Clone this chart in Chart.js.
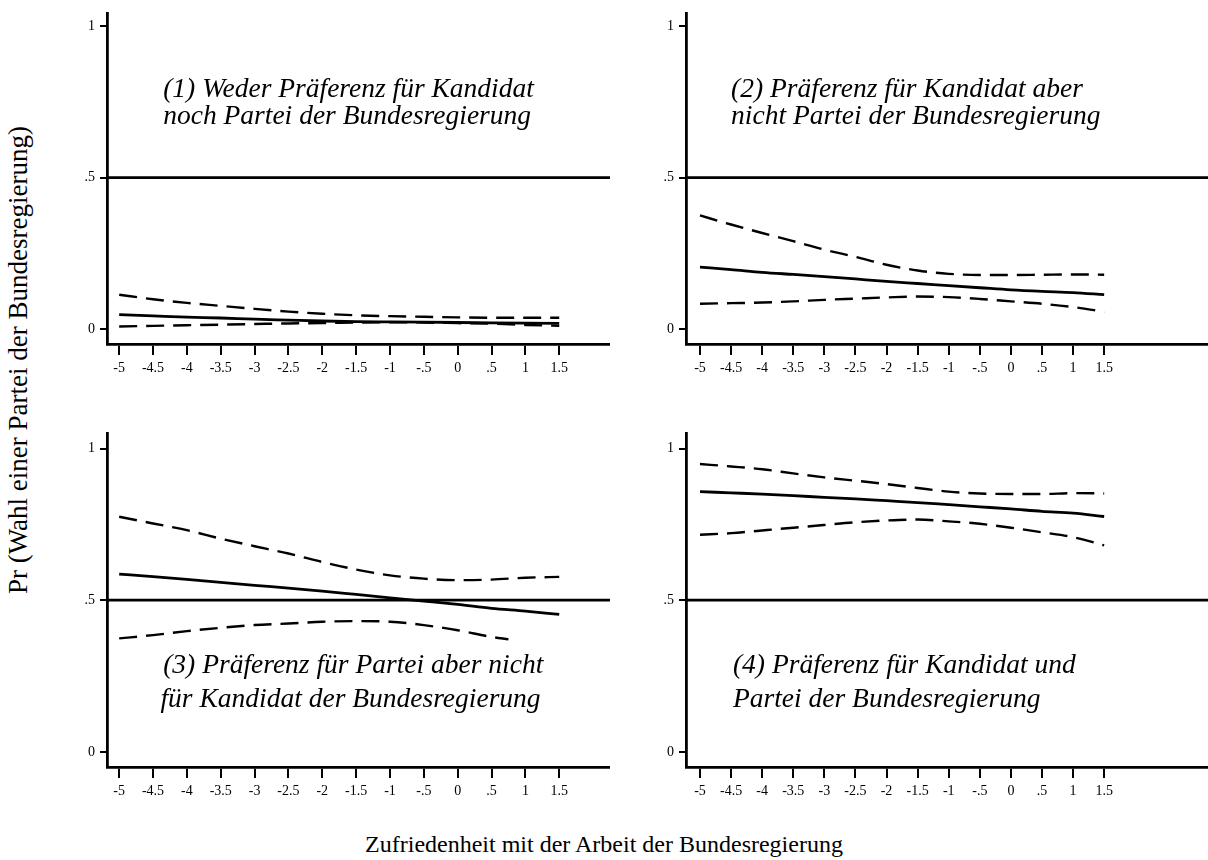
<!DOCTYPE html>
<html>
<head>
<meta charset="utf-8">
<script src="https://cdn.jsdelivr.net/npm/chart.js@4.4.1/dist/chart.umd.min.js"></script>
<style>
html,body{margin:0;padding:0;background:#fff;}
body{width:1208px;height:860px;position:relative;overflow:hidden;font-family:"Liberation Serif","Times New Roman",serif;color:#000;}
canvas.pc{position:absolute;}
#xtitle{position:absolute;left:304px;top:830px;width:600px;text-align:center;font-size:24px;line-height:28px;white-space:nowrap;}
#ytitle{position:absolute;left:-282px;top:345px;width:600px;height:30px;line-height:30px;text-align:center;font-size:27px;white-space:nowrap;transform:rotate(-90deg);}
</style>
</head>
<body>
<canvas id="c1" class="pc"></canvas>
<canvas id="c2" class="pc"></canvas>
<canvas id="c3" class="pc"></canvas>
<canvas id="c4" class="pc"></canvas>
<div id="xtitle">Zufriedenheit mit der Arbeit der Bundesregierung</div>
<div id="ytitle">Pr (Wahl einer Partei der Bundesregierung)</div>
<script>
// ---------- data ----------
const xValues = [-5, -4.5, -4, -3.5, -3, -2.5, -2, -1.5, -1, -0.5, 0, 0.5, 1, 1.5];
const xTickLabels = ["-5", "-4.5", "-4", "-3.5", "-3", "-2.5", "-2", "-1.5", "-1", "-.5", "0", ".5", "1", "1.5"];
const yTickValues = [0, 0.5, 1];
const yTickLabels = ["0", ".5", "1"];
const refLineValue = 0.5;

const p1Upper = [0.113, 0.098, 0.086, 0.076, 0.066, 0.057, 0.050, 0.045, 0.042, 0.040, 0.038, 0.037, 0.037, 0.037];
const p1Pred  = [0.047, 0.043, 0.039, 0.036, 0.032, 0.029, 0.026, 0.024, 0.023, 0.022, 0.021, 0.020, 0.019, 0.018];
const p1Lower = [0.008, 0.010, 0.012, 0.014, 0.016, 0.018, 0.019, 0.021, 0.022, 0.021, 0.019, 0.017, 0.013, 0.010];

const p2Upper = [0.375, 0.345, 0.317, 0.290, 0.262, 0.238, 0.212, 0.193, 0.182, 0.178, 0.178, 0.179, 0.180, 0.179];
const p2Pred  = [0.204, 0.196, 0.187, 0.180, 0.173, 0.165, 0.157, 0.150, 0.143, 0.136, 0.129, 0.124, 0.120, 0.113];
const p2Lower = [0.083, 0.085, 0.087, 0.091, 0.096, 0.100, 0.104, 0.107, 0.105, 0.099, 0.091, 0.083, 0.072, 0.057];

const p3Upper = [0.775, 0.753, 0.731, 0.703, 0.678, 0.654, 0.626, 0.601, 0.582, 0.571, 0.566, 0.568, 0.574, 0.577];
const p3Pred  = [0.586, 0.578, 0.569, 0.559, 0.549, 0.540, 0.530, 0.519, 0.508, 0.497, 0.486, 0.473, 0.464, 0.453];
const p3LowerX = [-5, -4.5, -4, -3.5, -3, -2.5, -2, -1.5, -1, -0.5, 0, 0.5, 0.75];
const p3Lower = [0.374, 0.385, 0.398, 0.409, 0.418, 0.423, 0.429, 0.431, 0.429, 0.418, 0.401, 0.379, 0.371];

const p4Upper = [0.949, 0.941, 0.932, 0.918, 0.905, 0.894, 0.883, 0.870, 0.858, 0.852, 0.850, 0.850, 0.853, 0.852];
const p4Pred  = [0.858, 0.854, 0.850, 0.845, 0.839, 0.834, 0.828, 0.822, 0.815, 0.808, 0.801, 0.793, 0.787, 0.776];
const p4Lower = [0.716, 0.721, 0.730, 0.739, 0.748, 0.757, 0.763, 0.766, 0.760, 0.752, 0.739, 0.724, 0.708, 0.681];

const titles1 = ["(1) Weder Präferenz für Kandidat", "noch Partei der Bundesregierung"];
const titles2 = ["(2) Präferenz für Kandidat aber", "nicht Partei der Bundesregierung"];
const titles3 = ["(3) Präferenz für Partei aber nicht", "für Kandidat der Bundesregierung"];
const titles4 = ["(4) Präferenz für Kandidat und", "Partei der Bundesregierung"];

// ---------- chart setup ----------
Chart.defaults.font.family = '"Liberation Serif", "Times New Roman", serif';
Chart.defaults.font.size = 14;
Chart.defaults.color = '#000';

const pts = (xs, ys) => xs.map((x, i) => ({x: x, y: ys[i]}));

const refLinePlugin = {
  id: 'refLine',
  beforeDatasetsDraw(chart) {
    const {ctx, chartArea, scales} = chart;
    const y = scales.y.getPixelForValue(refLineValue);
    ctx.save();
    ctx.strokeStyle = '#000';
    ctx.lineWidth = 2.8;
    ctx.beginPath();
    ctx.moveTo(chartArea.left, y);
    ctx.lineTo(chartArea.right, y);
    ctx.stroke();
    ctx.restore();
  }
};

const panelTitlePlugin = {
  id: 'panelTitle',
  afterDraw(chart, args, opts) {
    if (!opts || !opts.lines) return;
    const {ctx, scales} = chart;
    ctx.save();
    ctx.fillStyle = '#000';
    ctx.font = 'italic 27.5px "Liberation Serif", "Times New Roman", serif';
    ctx.textBaseline = 'alphabetic';
    ctx.textAlign = 'left';
    opts.lines.forEach((t, i) => {
      const x = scales.x.getPixelForValue(opts.xs[i]);
      const y = scales.y.getPixelForValue(opts.ys[i]);
      ctx.fillText(t, x, y);
    });
    ctx.restore();
  }
};

function makePanel(id, geom, series, title) {
  const cv = document.getElementById(id);
  cv.width = geom.w; cv.height = geom.h;
  cv.style.left = geom.left + 'px'; cv.style.top = geom.top + 'px';
  cv.style.width = geom.w + 'px'; cv.style.height = geom.h + 'px';
  const datasets = series.map(s => ({
    data: s.data,
    borderColor: '#000',
    borderWidth: s.dash ? 2.4 : 2.8,
    borderDash: s.dash ? [18, 9] : [],
    pointRadius: 0,
    fill: false,
    tension: 0.3,
    cubicInterpolationMode: 'monotone'
  }));
  return new Chart(cv, {
    type: 'line',
    data: {datasets},
    options: {
      responsive: false,
      animation: false,
      devicePixelRatio: 1,
      layout: {padding: {top: geom.padT, right: 0, left: 0, bottom: 0}},
      plugins: {
        legend: {display: false},
        tooltip: {enabled: false},
        panelTitle: title
      },
      scales: {
        x: {
          type: 'linear', min: geom.xMin, max: geom.xMax,
          afterBuildTicks: sc => { sc.ticks = xValues.map(v => ({value: v})); },
          afterFit: sc => { sc.height = geom.xH; },
          ticks: {
            autoSkip: false, maxRotation: 0, padding: 5,
            font: {size: 14},
            callback: (v, i) => xTickLabels[i]
          },
          grid: {drawOnChartArea: false, drawTicks: true, tickLength: 11, color: '#000', lineWidth: 2},
          border: {display: true, color: '#000', width: 2.8}
        },
        y: {
          type: 'linear', min: geom.yMin, max: geom.yMax,
          afterBuildTicks: sc => { sc.ticks = yTickValues.map(v => ({value: v})); },
          afterFit: sc => { sc.width = geom.yW; },
          ticks: {
            autoSkip: false, padding: 5,
            font: {size: 14},
            callback: (v, i) => yTickLabels[i]
          },
          grid: {drawOnChartArea: false, drawTicks: true, tickLength: 7, color: '#000', lineWidth: 2},
          border: {display: true, color: '#000', width: 2.8}
        }
      }
    },
    plugins: [refLinePlugin, panelTitlePlugin]
  });
}

const g1 = {left: 45, top: 0, w: 565, h: 395, padT: 12, yW: 62, xH: 51, xMin: -5.18, xMax: 2.25, yMin: -0.05, yMax: 1.043};
const g2 = {left: 626, top: 0, w: 582, h: 395, padT: 12, yW: 60, xH: 51, xMin: -5.225, xMax: 3.17, yMin: -0.05, yMax: 1.043};
const g3 = {left: 45, top: 420, w: 565, h: 395, padT: 12, yW: 62, xH: 48, xMin: -5.18, xMax: 2.25, yMin: -0.05, yMax: 1.05};
const g4 = {left: 626, top: 420, w: 582, h: 395, padT: 12, yW: 60, xH: 48, xMin: -5.225, xMax: 3.17, yMin: -0.05, yMax: 1.05};

makePanel('c1', g1, [
  {data: pts(xValues, p1Upper), dash: true},
  {data: pts(xValues, p1Pred), dash: false},
  {data: pts(xValues, p1Lower), dash: true}
], {lines: titles1, xs: [-4.35, -4.35], ys: [0.766, 0.677]});

makePanel('c2', g2, [
  {data: pts(xValues, p2Upper), dash: true},
  {data: pts(xValues, p2Pred), dash: false},
  {data: pts(xValues, p2Lower), dash: true}
], {lines: titles2, xs: [-4.50, -4.50], ys: [0.766, 0.677]});

makePanel('c3', g3, [
  {data: pts(xValues, p3Upper), dash: true},
  {data: pts(xValues, p3Pred), dash: false},
  {data: pts(p3LowerX, p3Lower), dash: true}
], {lines: titles3, xs: [-4.35, -4.39], ys: [0.261, 0.149]});

makePanel('c4', g4, [
  {data: pts(xValues, p4Upper), dash: true},
  {data: pts(xValues, p4Pred), dash: false},
  {data: pts(xValues, p4Lower), dash: true}
], {lines: titles4, xs: [-4.47, -4.47], ys: [0.261, 0.149]});
</script>
</body>
</html>
